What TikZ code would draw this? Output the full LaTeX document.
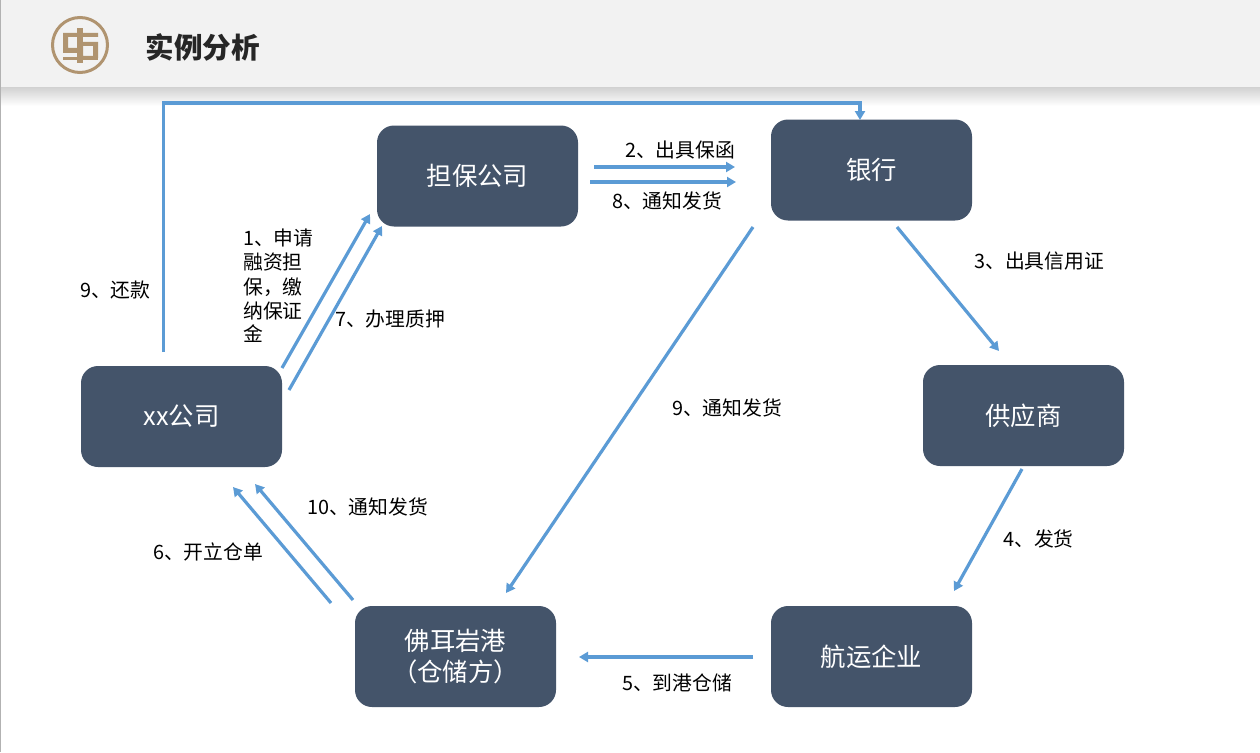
\documentclass[tikz,border=0pt]{standalone}
\usepackage{fontspec}
\setmainfont{Noto Sans CJK SC}
\usetikzlibrary{arrows.meta}

\definecolor{boxblue}{HTML}{44546A}
\definecolor{linkblue}{HTML}{5B9BD5}
\definecolor{logobrown}{HTML}{B09470}
\definecolor{headgray}{HTML}{F2F2F2}

\tikzset{
firm/.style={fill=boxblue,text=white,rounded corners=17pt,minimum width=201pt,minimum height=101pt,
inner sep=0pt,align=center,font=\fontsize{25.4}{31}\selectfont},
link/.style={draw=linkblue,line width=3.2pt,-{Triangle[length=9pt,width=10pt]}},
tag/.style={text=black,inner sep=0pt,font=\fontsize{19.8}{24}\selectfont,anchor=west}
}

\begin{document}
\begin{tikzpicture}[x=1pt,y=-1pt]
\useasboundingbox (0,0) rectangle (1260,752);
\fill[white] (0,0) rectangle (1260,752);
% header
\fill[headgray] (0,0) rectangle (1260,87);
\shade[top color=black!18,bottom color=white] (0,87) rectangle (1260,106);
\fill[black!30] (0,0) rectangle (1,752);
\draw[logobrown,line width=3pt] (80,45) circle (27.5pt);
\fill[logobrown,even odd rule] (63,33) rectangle (98,37) (63,37) rectangle (77,53) (68,37) rectangle (77,48);
\fill[logobrown,even odd rule] (83,42) rectangle (98,58) (83,46) rectangle (93,56);
\fill[logobrown] (63,57) rectangle (98,60);
\fill[logobrown] (77,28) rectangle (83,63);
\node[inner sep=0pt,anchor=west,text=black!85] (title) at (145.5,47) {\fontsize{28.6}{34}\selectfont\bfseries 实例分析};

% boxes
\node[firm] (danbao) at (477.5,176) {担保公司};
\node[firm] (bank) at (871.5,170) {银行};
\node[firm] (supplier) at (1023.5,415.5) {供应商};
\node[firm] (ship) at (871.5,656.5) {航运企业};
\node[firm] (port) at (455.5,656.5) {佛耳岩港\\（仓储方）};
\node[firm] (xx) at (181.5,416.5) {xx公司};

% arrow ends
\coordinate (xxa) at (282,368);
\coordinate (xxb) at (289,390);
\coordinate (xxc) at (163.5,352);
\coordinate (xxd) at (233,487);
\coordinate (xxe) at (255,484);
\coordinate (dba) at (370,214);
\coordinate (dbb) at (382,226);
\coordinate (dbc) at (594,167);
\coordinate (dbd) at (590,182);
\coordinate (bka) at (735,167);
\coordinate (bkb) at (736,182);
\coordinate (bkc) at (897,227);
\coordinate (bkd) at (753,227);
\coordinate (bke) at (860,120);
\coordinate (spa) at (999,351);
\coordinate (spb) at (1022,469);
\coordinate (sha) at (954,591);
\coordinate (shb) at (753,657);
\coordinate (pta) at (579,657);
\coordinate (ptb) at (331,603);
\coordinate (ptc) at (353,600);
\coordinate (ptd) at (506,593);

% links
\draw[link] (xxa) -- (dba);
\draw[link] (xxb) -- (dbb);
\draw[link] (dbc) -- (bka);
\draw[link] (dbd) -- (bkb);
\draw[link] (bkc) -- (spa);
\draw[link] (spb) -- (sha);
\draw[link] (shb) -- (pta);
\draw[link] (ptb) -- (xxd);
\draw[link] (ptc) -- (xxe);
\draw[link] (bkd) -- (ptd);
\draw[link] (xxc) |- (860,103) -- (bke);

% labels
\node[tag] (l1) at (243,238) {1、申请};
\node[tag] (l1b) at (243,262) {融资担};
\node[tag] (l1c) at (243,287) {保，缴};
\node[tag] (l1d) at (243,311) {纳保证};
\node[tag] (l1e) at (243,334) {金};
\node[tag] (l2) at (625,150) {2、出具保函};
\node[tag] (l3) at (974,261) {3、出具信用证};
\node[tag] (l4) at (1003,539) {4、发货};
\node[tag] (l5) at (622,683) {5、到港仓储};
\node[tag] (l6) at (153,552) {6、开立仓单};
\node[tag] (l7) at (335,319) {7、办理质押};
\node[tag] (l8) at (612,201) {8、通知发货};
\node[tag] (l9a) at (672,408) {9、通知发货};
\node[tag] (l9b) at (80,290) {9、还款};
\node[tag] (l10) at (307,507) {10、通知发货};
\end{tikzpicture}
\end{document}
